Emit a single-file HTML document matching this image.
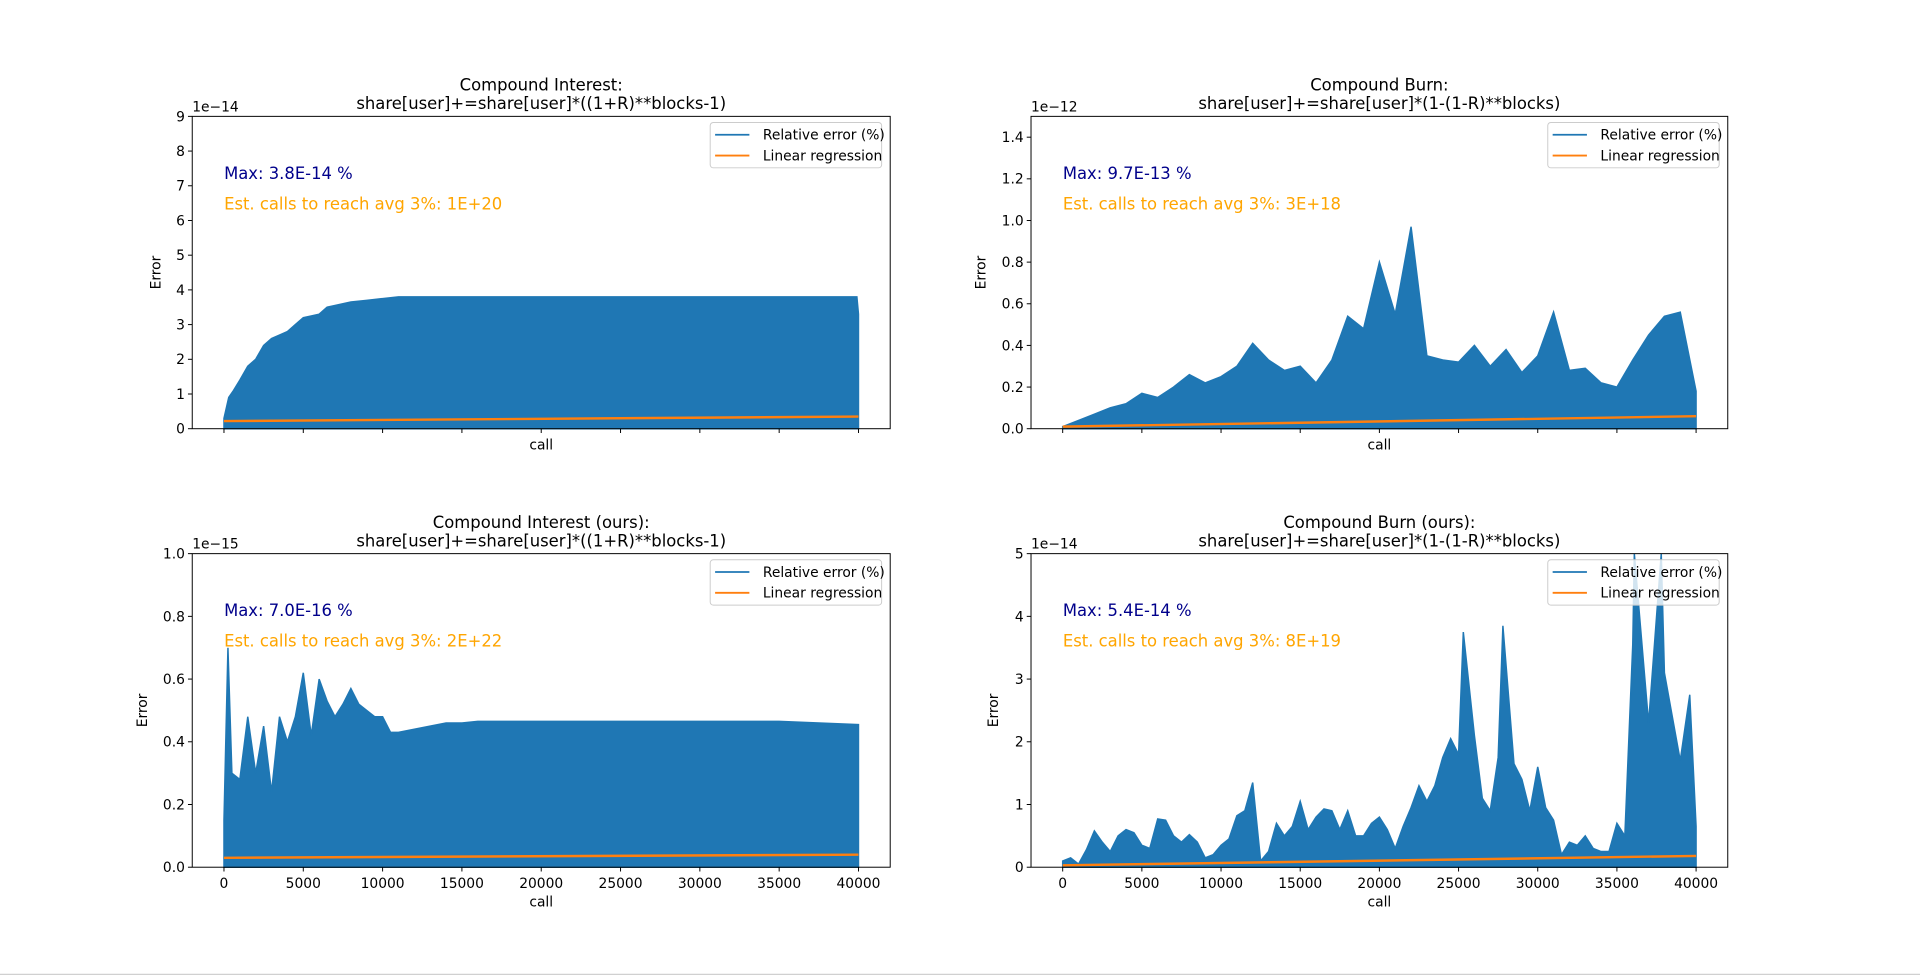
<!DOCTYPE html>
<html><head><meta charset="utf-8"><style>
html,body{margin:0;padding:0;background:#fff;}
svg{display:block;font-family:"DejaVu Sans","Liberation Sans",sans-serif;}
</style></head><body>
<svg id="fig" width="1920" height="975" viewBox="0 0 1568 796" preserveAspectRatio="none" xmlns="http://www.w3.org/2000/svg">
<rect x="0" y="0" width="1568" height="796" fill="#fff"/>
<line x1="0" y1="795.5" x2="1568" y2="795.5" stroke="#d0d0d0" stroke-width="1"/>
</svg>
<script>
// ---- data ----
const callsA = [0,1000,2000,3000,4000,5000,6000,7000,8000,9000,10000,11000,12000,13000,14000,15000,16000,17000,18000,19000,20000,21000,22000,23000,24000,25000,26000,27000,28000,29000,30000,31000,32000,33000,34000,35000,36000,37000,38000,39000,40000];
const tlCalls = [0,300,600,1000,1500,2000,2500,3000,3500,4000,4500,5000,5500,6000,6500,7000,7500,8000,9000,10000,11000,12000,14000,16000,18000,20000,22000,24000,26000,28000,30000,32000,34000,36000,38000,39900,40000];
const tlErr = [0.3,0.9,1.1,1.4,1.8,2.0,2.4,2.6,2.7,2.8,3.0,3.2,3.25,3.3,3.5,3.55,3.6,3.65,3.7,3.75,3.8,3.8,3.8,3.8,3.8,3.8,3.8,3.8,3.8,3.8,3.8,3.8,3.8,3.8,3.8,3.8,3.3];
const trErr = [0.01,0.04,0.07,0.1,0.12,0.17,0.15,0.2,0.26,0.22,0.25,0.3,0.41,0.33,0.28,0.3,0.22,0.33,0.54,0.48,0.8,0.55,0.97,0.35,0.33,0.32,0.4,0.3,0.38,0.27,0.35,0.56,0.28,0.29,0.22,0.2,0.33,0.45,0.54,0.56,0.18];
const blCalls = [0,250,500,1000,1500,2000,2500,3000,3500,4000,4500,5000,5500,6000,6500,7000,7500,8000,8500,9000,9500,10000,10500,11000,12000,13000,14000,15000,16000,20000,25000,30000,35000,40000];
const blErr = [0.15,0.7,0.3,0.28,0.48,0.3,0.45,0.24,0.48,0.4,0.48,0.62,0.42,0.6,0.53,0.48,0.52,0.57,0.52,0.5,0.48,0.48,0.43,0.43,0.44,0.45,0.46,0.46,0.465,0.465,0.465,0.465,0.465,0.455];
const brCalls = [0,500,1000,1500,2000,2500,3000,3500,4000,4500,5000,5500,6000,6500,7000,7500,8000,8500,9000,9500,10000,10500,11000,11500,12000,12500,13000,13500,14000,14500,15000,15500,16000,16500,17000,17500,18000,18500,19000,19500,20000,20500,21000,21500,22000,22500,23000,23500,24000,24500,25000,25300,26000,26500,27000,27500,27800,28500,29000,29500,30000,30500,31000,31500,32000,32500,33000,33500,34000,34500,35000,35500,36000,36100,37000,37800,38000,38500,39000,39600,40000];
const brErr = [0.1,0.15,0.05,0.28,0.58,0.4,0.25,0.5,0.6,0.55,0.35,0.3,0.77,0.75,0.5,0.4,0.52,0.4,0.15,0.2,0.35,0.45,0.82,0.9,1.35,0.1,0.25,0.7,0.5,0.65,1.05,0.6,0.8,0.93,0.9,0.6,0.9,0.5,0.5,0.7,0.8,0.6,0.3,0.65,0.95,1.3,1.05,1.3,1.75,2.05,1.8,3.75,2.1,1.1,0.9,1.75,3.85,1.65,1.4,0.9,1.6,0.95,0.75,0.2,0.4,0.35,0.5,0.3,0.25,0.25,0.7,0.5,3.55,5.0,2.3,5.0,3.1,2.4,1.7,2.75,0.65];
const tlReg = [0.22,0.35];
const trReg = [0.01,0.06];
const blReg = [0.03,0.04];
const brReg = [0.03,0.18];
const tlTicks = [0,1,2,3,4,5,6,7,8,9];
const trTicks = [0,0.2,0.4,0.6,0.8,1.0,1.2,1.4];
const blTicks = [0,0.2,0.4,0.6,0.8,1.0];
const brTicks = [0,1,2,3,4,5];
const xTicks = [0,5000,10000,15000,20000,25000,30000,35000,40000];

const NS = "http://www.w3.org/2000/svg";
const svg = document.getElementById('fig');
function mk(tag, attrs, parent, text){
  const e = document.createElementNS(NS, tag);
  for (const k in attrs) e.setAttribute(k, attrs[k]);
  if (text !== undefined) e.textContent = text;
  (parent||svg).appendChild(e);
  return e;
}
const panels = [
  {id:'tl', L:157, R:727, T:95, B:350, ymax:9, ticks:tlTicks, dec:0, exp:'1e\u221214', xs:tlCalls, ys:tlErr, reg:tlReg, xl:false,
   t1:'Compound Interest:', t2:'share[user]+=share[user]*((1+R)**blocks-1)', mx:'Max: 3.8E-14 %', est:'Est. calls to reach avg 3%: 1E+20', ylx:131},
  {id:'tr', L:842, R:1411, T:95, B:350, ymax:1.5, ticks:trTicks, dec:1, exp:'1e\u221212', xs:callsA, ys:trErr, reg:trReg, xl:false,
   t1:'Compound Burn:', t2:'share[user]+=share[user]*(1-(1-R)**blocks)', mx:'Max: 9.7E-13 %', est:'Est. calls to reach avg 3%: 3E+18', ylx:805},
  {id:'bl', L:157, R:727, T:452, B:708, ymax:1.0, ticks:blTicks, dec:1, exp:'1e\u221215', xs:blCalls, ys:blErr, reg:blReg, xl:true,
   t1:'Compound Interest (ours):', t2:'share[user]+=share[user]*((1+R)**blocks-1)', mx:'Max: 7.0E-16 %', est:'Est. calls to reach avg 3%: 2E+22', ylx:120},
  {id:'br', L:842, R:1411, T:452, B:708, ymax:5, ticks:brTicks, dec:0, exp:'1e\u221214', xs:brCalls, ys:brErr, reg:brReg, xl:true,
   t1:'Compound Burn (ours):', t2:'share[user]+=share[user]*(1-(1-R)**blocks)', mx:'Max: 5.4E-14 %', est:'Est. calls to reach avg 3%: 8E+19', ylx:815},
];
panels.forEach(p=>{
  const g = mk('g',{});
  
  
  const xmin=-2000, xmax=42000;
  const X = v => p.L + (v - xmin)/(xmax - xmin)*(p.R - p.L);
  const Y = v => p.B - v/p.ymax*(p.B - p.T);
  let d = 'M'+X(p.xs[0])+','+Y(0);
  p.xs.forEach((x,i)=>{ d += ' L'+X(x)+','+Y(p.ys[i]); });
  d += ' L'+X(p.xs[p.xs.length-1])+','+Y(0)+' Z';
  const s = mk('path',{d:d, fill:'#1f77b4', stroke:'#1f77b4', 'stroke-width':1.2, 'stroke-linejoin':'miter'}, g);
  
  
  const r = mk('line',{x1:X(0), y1:Y(p.reg[0]), x2:X(40000), y2:Y(p.reg[1]), stroke:'#ff7f0e', 'stroke-width':2}, g);
  
  
  const f = mk('rect',{x:p.L, y:p.T, width:p.R-p.L, height:p.B-p.T, fill:'none', stroke:'#000', 'stroke-width':0.8}, g);
  
  
  p.ticks.forEach(t=>{
    mk('line',{x1:p.L-3.5, y1:Y(t), x2:p.L, y2:Y(t), stroke:'#000', 'stroke-width':0.8}, g);
    const tl = mk('text',{x:p.L-6, y:Y(t)+4, 'text-anchor':'end', 'font-size':11.3, fill:'#000'}, g, t.toFixed(p.dec));
    
    
  });
  xTicks.forEach(t=>{
    mk('line',{x1:X(t), y1:p.B, x2:X(t), y2:p.B+3.5, stroke:'#000', 'stroke-width':0.8}, g);
    if (p.xl){
      const tl = mk('text',{x:X(t), y:p.B+17, 'text-anchor':'middle', 'font-size':11.3, fill:'#000'}, g, String(t));
      
      
    }
  });
  const ex = mk('text',{x:p.L, y:p.T-4, 'font-size':11.3, fill:'#000'}, g, p.exp);
  
  
  const xl = mk('text',{x:(p.L+p.R)/2, y:p.xl ? p.B+32 : p.B+17, 'text-anchor':'middle', 'font-size':11.3, fill:'#000'}, g, 'call');
  
  
  const yl = mk('text',{x:p.ylx, y:(p.T+p.B)/2, 'text-anchor':'middle', 'font-size':11.3, fill:'#000', transform:'rotate(-90 '+p.ylx+' '+(p.T+p.B)/2+')'}, g, 'Error');
  
  
  const t1 = mk('text',{x:(p.L+p.R)/2, y:p.T-21, 'text-anchor':'middle', 'font-size':13.4, fill:'#000'}, g, p.t1);
  
  
  const t2 = mk('text',{x:(p.L+p.R)/2, y:p.T-6, 'text-anchor':'middle', 'font-size':13.4, fill:'#000'}, g, p.t2);
  
  
  const mxT = mk('text',{x:p.L+26, y:p.T+51, 'font-size':13.4, fill:'#00008b'}, g, p.mx);
  
  
  const esT = mk('text',{x:p.L+26, y:p.T+76, 'font-size':13.4, fill:'#ffa500'}, g, p.est);
  
  
  const lg = mk('g',{}, g);
  
  
  mk('rect',{x:p.R-147, y:p.T+5, width:140, height:37, rx:2.5, fill:'#fff', 'fill-opacity':0.8, stroke:'#ccc', 'stroke-width':0.8}, lg);
  mk('line',{x1:p.R-143, y1:p.T+15, x2:p.R-115, y2:p.T+15, stroke:'#1f77b4', 'stroke-width':1.5}, lg);
  mk('line',{x1:p.R-143, y1:p.T+32, x2:p.R-115, y2:p.T+32, stroke:'#ff7f0e', 'stroke-width':1.5}, lg);
  const e1 = mk('text',{x:p.R-104, y:p.T+19, 'font-size':11.3, fill:'#000'}, lg, 'Relative error (%)');
  
  
  const e2 = mk('text',{x:p.R-104, y:p.T+36, 'font-size':11.3, fill:'#000'}, lg, 'Linear regression');
  
  
});
</script>
</body></html>
